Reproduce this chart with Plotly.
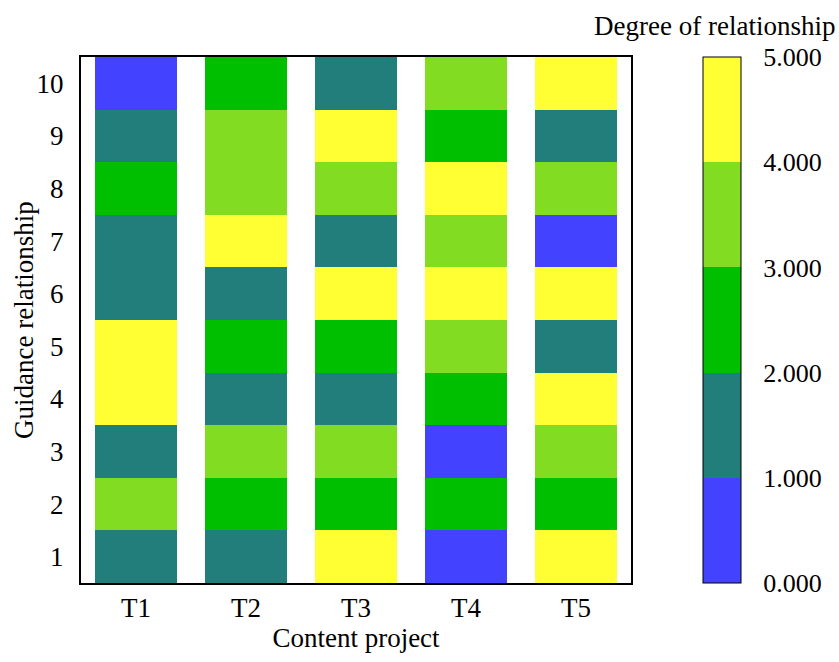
import plotly.graph_objects as go

# Content projects (columns) and guidance relationships (rows)
projects = ["T1", "T2", "T3", "T4", "T5"]
relations = [1, 2, 3, 4, 5, 6, 7, 8, 9, 10]

# Degree of relationship per project, listed from relationship 1 up to 10
t1 = [1.5, 3.5, 1.5, 4.5, 4.5, 1.5, 1.5, 2.5, 1.5, 0.5]
t2 = [1.5, 2.5, 3.5, 1.5, 2.5, 1.5, 4.5, 3.5, 3.5, 2.5]
t3 = [4.5, 2.5, 3.5, 1.5, 2.5, 4.5, 1.5, 3.5, 4.5, 1.5]
t4 = [0.5, 2.5, 0.5, 2.5, 3.5, 4.5, 3.5, 4.5, 2.5, 3.5]
t5 = [4.5, 2.5, 3.5, 4.5, 1.5, 4.5, 0.5, 3.5, 1.5, 4.5]

colorbar_ticks = [0, 1, 2, 3, 4, 5]
level_colors = ["#4242FF", "#217E7A", "#00BE00", "#82DC22", "#FFFF33"]

# Build a stepped colour scale: one flat band per unit interval
scale = []
n = len(level_colors)
for i, c in enumerate(level_colors):
    scale.append([i / n, c])
    scale.append([(i + 1) / n, c])

columns = [t1, t2, t3, t4, t5]
z = [[columns[j][i] for j in range(len(projects))] for i in range(len(relations))]

FONT = "Liberation Serif, Times New Roman, serif"
SIZE = 27

fig = go.Figure(
    go.Heatmap(
        x=list(range(1, len(projects) + 1)),
        y=relations,
        z=z,
        zmin=0,
        zmax=5,
        colorscale=scale,
        xgap=28,
        ygap=0,
        colorbar=dict(
            x=1.131,
            xanchor="left",
            xpad=0,
            y=0.5,
            yanchor="middle",
            len=1.0,
            lenmode="fraction",
            ypad=0,
            thickness=38,
            outlinecolor="black",
            outlinewidth=1,
            tickvals=colorbar_ticks,
            tickformat=".3f",
            ticks="outside",
            ticklen=17,
            tickcolor="rgba(0,0,0,0)",
            tickfont=dict(family=FONT, size=26, color="black"),
        ),
        hoverongaps=False,
    )
)

# Colour bar heading
fig.add_annotation(
    text="Degree of relationship",
    xref="paper", yref="paper",
    x=1.151, y=1.0,
    xanchor="center", yanchor="bottom",
    yshift=14,
    showarrow=False,
    font=dict(family=FONT, size=SIZE, color="black"),
)

# Vertical axis heading
fig.add_annotation(
    text="Guidance relationship",
    xref="paper", yref="paper",
    x=0, y=0.5,
    xanchor="center", yanchor="middle",
    xshift=-57,
    textangle=-90,
    showarrow=False,
    font=dict(family=FONT, size=SIZE, color="black"),
)

fig.update_layout(
    width=839,
    height=662,
    margin=dict(l=81, r=208, t=57, b=79),
    paper_bgcolor="white",
    plot_bgcolor="white",
    font=dict(family=FONT, size=SIZE, color="black"),
)

fig.update_xaxes(
    range=[0.5, 5.5],
    tickvals=list(range(1, len(projects) + 1)),
    ticktext=projects,
    ticks="",
    ticklabelstandoff=0,
    showgrid=False,
    zeroline=False,
    showline=True,
    linecolor="black",
    linewidth=2,
    mirror=True,
    title=dict(text="Content project", standoff=0,
               font=dict(family=FONT, size=SIZE)),
    tickfont=dict(family=FONT, size=SIZE),
)

fig.update_yaxes(
    range=[0.5, 10.5],
    tickvals=relations,
    ticks="",
    ticklabelstandoff=10,
    showgrid=False,
    zeroline=False,
    showline=True,
    linecolor="black",
    linewidth=2,
    mirror=True,
    tickfont=dict(family=FONT, size=SIZE),
)

fig.write_html("out.html")
